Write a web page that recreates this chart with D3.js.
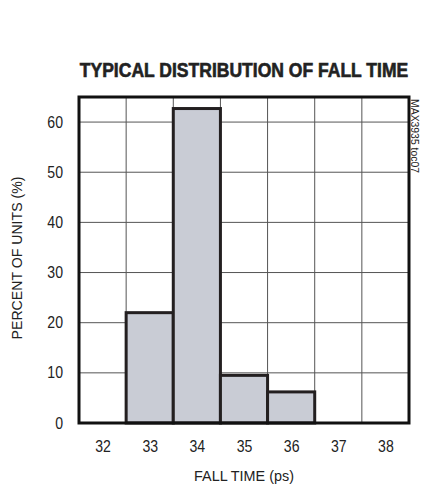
<!DOCTYPE html>
<html>
<head>
<meta charset="utf-8">
<script src="https://cdn.jsdelivr.net/npm/d3@7"></script>
<style>
  body { margin: 0; background: #fff; }
  text { font-family: "Liberation Sans", Arial, sans-serif; fill: #222; }
</style>
</head>
<body>
<div id="chart"></div>
<script>
var svgWidth = 422;
var svgHeight = 488;

var margin = { top: 97, right: 13, bottom: 65, left: 79 };
var width = svgWidth - margin.left - margin.right;
var height = svgHeight - margin.top - margin.bottom;

// data
var fallTimes = [32, 33, 34, 35, 36, 37, 38];
var percents = [0, 22, 62.7, 9.5, 6.2, 0, 0];
var yTicks = [0, 10, 20, 30, 40, 50, 60];

// narrow font look: squeeze text horizontally
function narrow(sel, k) {
  sel.each(function() {
    var len = this.getComputedTextLength();
    d3.select(this)
      .attr("textLength", len * k)
      .attr("lengthAdjust", "spacingAndGlyphs");
  });
}

// place a text squeezed to a given width, using a scaled group
function squeezedText(parent, x, y, rot, size, targetLen, str) {
  var g = parent.append("g")
    .attr("transform", `translate(${x}, ${y}) rotate(${rot})`);
  var inner = g.append("g");
  var t = inner.append("text")
    .attr("text-anchor", "middle")
    .attr("font-size", size)
    .text(str);
  var len = t.node().getComputedTextLength();
  inner.attr("transform", `scale(${targetLen / len}, 1)`);
  return t;
}

var svg = d3.select("#chart")
  .append("svg")
  .attr("width", svgWidth)
  .attr("height", svgHeight);

var chartGroup = svg.append("g")
  .attr("transform", `translate(${margin.left}, ${margin.top})`);

var xScale = d3.scaleLinear().domain([31.5, 38.5]).range([0, width]);
var yScale = d3.scaleLinear().domain([0, 65]).range([height, 0]);

// grid lines: verticals on bin edges, horizontals on ticks
var edges = d3.range(32.5, 38.5, 1);
chartGroup.selectAll(".vgrid")
  .data(edges)
  .enter()
  .append("line")
  .attr("x1", d => xScale(d))
  .attr("x2", d => xScale(d))
  .attr("y1", 0)
  .attr("y2", height)
  .attr("stroke", "#555")
  .attr("stroke-width", 1);

chartGroup.selectAll(".hgrid")
  .data(yTicks.slice(1))
  .enter()
  .append("line")
  .attr("x1", 0)
  .attr("x2", width)
  .attr("y1", d => yScale(d))
  .attr("y2", d => yScale(d))
  .attr("stroke", "#555")
  .attr("stroke-width", 1);

// bars
var barData = fallTimes.map((t, i) => ({ t: t, p: percents[i] })).filter(d => d.p > 0);
chartGroup.selectAll(".bar")
  .data(barData)
  .enter()
  .append("rect")
  .attr("x", d => xScale(d.t - 0.5))
  .attr("y", d => yScale(d.p))
  .attr("width", d => xScale(d.t + 0.5) - xScale(d.t - 0.5))
  .attr("height", d => yScale(0) - yScale(d.p))
  .attr("fill", "#c9ccd5")
  .attr("stroke", "#231f20")
  .attr("stroke-width", 3);

// frame
chartGroup.append("rect")
  .attr("x", 0)
  .attr("y", 0)
  .attr("width", width)
  .attr("height", height)
  .attr("fill", "none")
  .attr("stroke", "#111")
  .attr("stroke-width", 3);

// axes (labels only)
var bottomAxis = d3.axisBottom(xScale).tickValues(fallTimes).tickFormat(d3.format("d"))
  .tickSize(0).tickPadding(18);
var leftAxis = d3.axisLeft(yScale).tickValues(yTicks).tickFormat(d3.format("d"))
  .tickSize(0).tickPadding(16);

var xAxis = chartGroup.append("g")
  .attr("transform", `translate(0, ${height})`)
  .call(bottomAxis);
var yAxis = chartGroup.append("g").call(leftAxis);

[xAxis, yAxis].forEach(function(ax) {
  ax.select(".domain").remove();
  ax.selectAll("text")
    .attr("font-family", "Liberation Sans")
    .attr("font-size", 16)
    .attr("fill", "#222")
    .call(narrow, 0.88);
});

// title
squeezedText(svg, 244, 77, 0, 19.5, 322, "TYPICAL DISTRIBUTION OF FALL TIME")
  .attr("font-weight", "bold")
  .attr("stroke", "#222")
  .attr("stroke-width", 0.6);

// x label
squeezedText(svg, margin.left + width / 2, 481, 0, 15.5, 100, "FALL TIME (ps)");

// y label
squeezedText(svg, 22, 258, -90, 14.5, 163, "PERCENT OF UNITS (%)");

// side code
squeezedText(svg, 411, 136, 90, 10, 74, "MAX3935 toc07");
</script>
</body>
</html>
